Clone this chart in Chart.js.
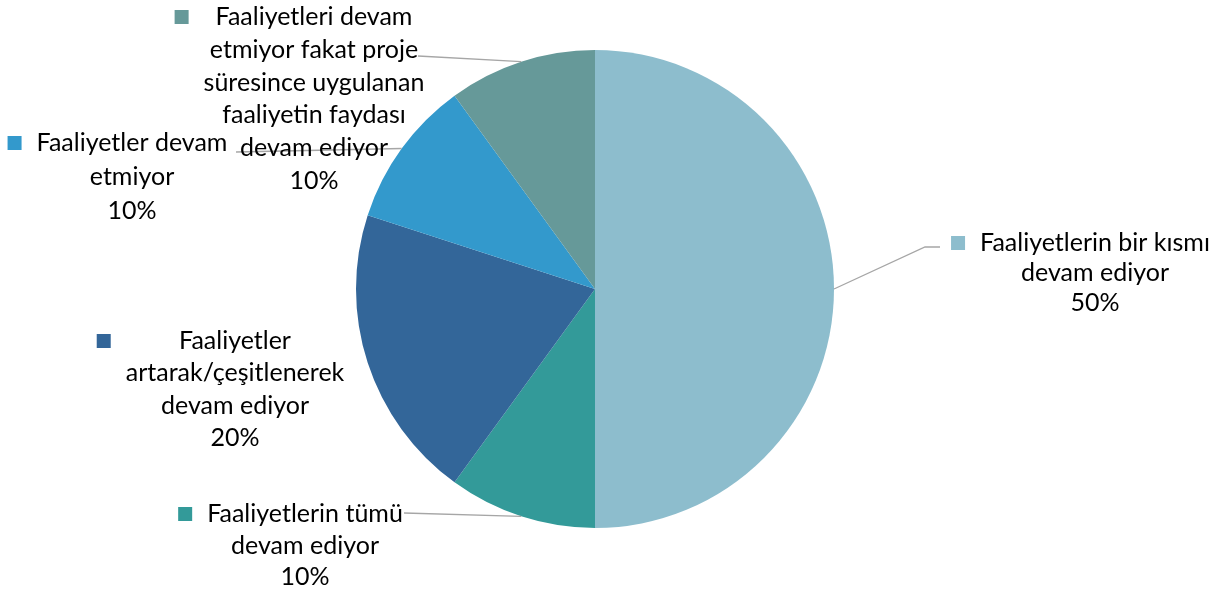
<!DOCTYPE html>
<html>
<head>
<meta charset="utf-8">
<script src="https://cdn.jsdelivr.net/npm/chart.js@4.4.0/dist/chart.umd.min.js"></script>
<style>
  html, body { margin: 0; padding: 0; background: #fff; }
  #wrap { width: 1220px; height: 595px; position: relative; }
</style>
</head>
<body>
<div id="wrap"><canvas id="pie"></canvas></div>
<script>
// categories (split into the lines shown on the chart)
var categories = [
    ['Faaliyetlerin bir kısmı', 'devam ediyor'],
    ['Faaliyetlerin tümü', 'devam ediyor'],
    ['Faaliyetler', 'artarak/çeşitlenerek', 'devam ediyor'],
    ['Faaliyetler devam', 'etmiyor'],
    ['Faaliyetleri devam', 'etmiyor fakat proje', 'süresince uygulanan', 'faaliyetin faydası', 'devam ediyor']
];
var shares = [50, 10, 20, 10, 10];
var colors = ['#8dbdcd', '#339a99', '#336699', '#3399cc', '#669999'];

// where each label block sits (center x, first line y), and its leader end point
var labelPlaces = [
    { x: 1095, y: 243, step: 30, elbow: [925, 247], end: [940, 247] },
    { x: 305, y: 514, step: 31.5, end: [404, 513] },
    { x: 235, y: 341, step: 32.3, end: null },
    { x: 132, y: 143, step: 34, end: [236, 152] },
    { x: 314, y: 17, step: 32.8, end: [418, 56] }
];

var FONT = '25px Lato, "Open Sans", sans-serif';

var labelPlugin = {
    id: 'pieLabels',
    afterDatasetsDraw: function(chart) {
        var ctx = chart.ctx;
        var meta = chart.getDatasetMeta(0);
        var total = shares.reduce((p, c) => p + c, 0);
        ctx.save();
        ctx.font = FONT;
        ctx.textBaseline = 'middle';
        ctx.textAlign = 'center';

        meta.data.forEach(function(arc, i) {
            var place = labelPlaces[i];
            var mid = (arc.startAngle + arc.endAngle) / 2;
            var px = arc.x + Math.cos(mid) * arc.outerRadius;
            var py = arc.y + Math.sin(mid) * arc.outerRadius;

            // leader line
            if (place.end) {
                ctx.strokeStyle = '#a6a6a6';
                ctx.lineWidth = 1.3;
                ctx.beginPath();
                ctx.moveTo(px, py);
                if (place.elbow) ctx.lineTo(place.elbow[0], place.elbow[1]);
                ctx.lineTo(place.end[0], place.end[1]);
                ctx.stroke();
            }

            var lines = categories[i].slice();
            lines.push(Math.round(shares[i] / total * 100) + '%');

            // legend key sits left of the widest line of the block
            var wMax = Math.max.apply(null, lines.map(t => ctx.measureText(t).width));
            ctx.fillStyle = colors[i];
            ctx.fillRect(place.x - wMax / 2 - 29, place.y - 7, 14, 14);

            ctx.fillStyle = '#000';
            lines.forEach(function(t, k) {
                ctx.fillText(t, place.x, place.y + k * place.step);
            });
        });
        ctx.restore();
    }
};

new Chart(document.getElementById('pie'), {
    type: 'pie',
    data: {
        labels: categories,
        datasets: [{
            data: shares,
            backgroundColor: colors,
            borderWidth: 0
        }]
    },
    options: {
        responsive: true,
        maintainAspectRatio: false,
        animation: false,
        layout: { padding: { top: 50, bottom: 67, left: 356, right: 386 } },
        plugins: {
            legend: { display: false },
            tooltip: { enabled: false }
        }
    },
    plugins: [labelPlugin]
});
</script>
</body>
</html>
